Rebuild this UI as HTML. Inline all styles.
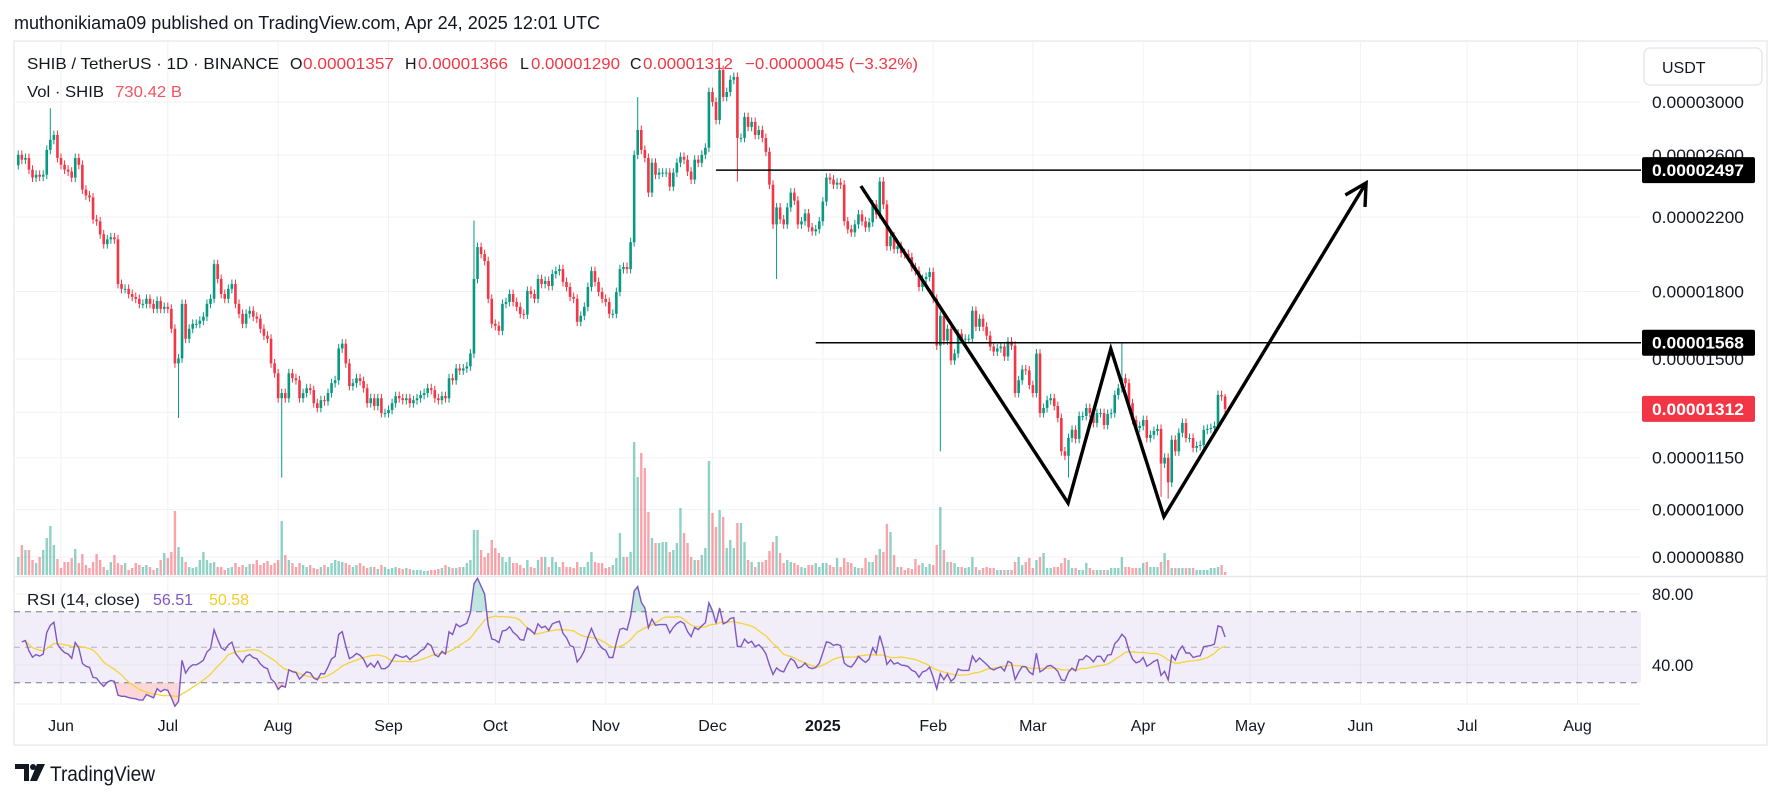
<!DOCTYPE html>
<html><head><meta charset="utf-8"><title>SHIB/USDT chart</title>
<style>
html,body{margin:0;padding:0;background:#fff;}
body{width:1781px;height:799px;overflow:hidden;font-family:"Liberation Sans",sans-serif;}
svg text{font-family:"Liberation Sans",sans-serif;}
</style></head>
<body>
<svg id="chart" width="1781" height="799" viewBox="0 0 1781 799" xmlns="http://www.w3.org/2000/svg">
  <rect x="0" y="0" width="1781" height="799" fill="#ffffff"/>
  <text x="14" y="29" font-size="18" fill="#131722" textLength="586" lengthAdjust="spacingAndGlyphs">muthonikiama09 published on TradingView.com, Apr 24, 2025 12:01 UTC</text>
  <rect x="14" y="41" width="1753" height="704" fill="none" stroke="#eef0f4" stroke-width="2"/>
  <g id="grid"></g>
  <g id="rsiBand"></g>
  <g id="volumes"></g>
  <g id="candles"></g>
  <g id="rsi"></g>
  <g id="drawings"></g>
  <g id="axis"></g>
  <g font-size="16">
    <text x="27" y="69" fill="#131722" textLength="252" lengthAdjust="spacingAndGlyphs">SHIB / TetherUS · 1D · BINANCE</text>
    <text x="290" y="69" fill="#131722">O</text><text x="303" y="69" fill="#F23645" textLength="91" lengthAdjust="spacingAndGlyphs">0.00001357</text>
    <text x="405" y="69" fill="#131722">H</text><text x="418" y="69" fill="#F23645" textLength="90" lengthAdjust="spacingAndGlyphs">0.00001366</text>
    <text x="520" y="69" fill="#131722">L</text><text x="531" y="69" fill="#F23645" textLength="89" lengthAdjust="spacingAndGlyphs">0.00001290</text>
    <text x="630" y="69" fill="#131722">C</text><text x="643" y="69" fill="#F23645" textLength="90" lengthAdjust="spacingAndGlyphs">0.00001312</text>
    <text x="745" y="69" fill="#F23645" textLength="173" lengthAdjust="spacingAndGlyphs">−0.00000045 (−3.32%)</text>
    <text x="27" y="97" fill="#131722" textLength="77" lengthAdjust="spacingAndGlyphs">Vol · SHIB</text>
    <text x="115" y="97" fill="#F7525F" textLength="67" lengthAdjust="spacingAndGlyphs">730.42 B</text>
    <text x="27" y="605" fill="#131722" textLength="113" lengthAdjust="spacingAndGlyphs">RSI (14, close)</text>
    <text x="153" y="605" fill="#7E57C2">56.51</text>
    <text x="209" y="605" fill="#F5CD2A">50.58</text>
  </g>
  <g>
    <rect x="1644" y="48" width="118" height="37" rx="6" fill="#fff" stroke="#e6e8ee" stroke-width="1.5"/>
    <text x="1662" y="73" font-size="16" fill="#131722">USDT</text>
  </g>
  <g>
    <path d="M15 764 h14 v17 h-5 v-12 h-9 z" fill="#131722"/>
    <circle cx="33" cy="767" r="3" fill="#131722"/>
    <path d="M37 764 h8 l-8 17 h-7 z" fill="#131722"/>
    <text x="50" y="781" font-size="21" fill="#131722" textLength="105" lengthAdjust="spacingAndGlyphs">TradingView</text>
  </g>
</svg>
<script>
// ---- data (prices in 1e-8 USDT units, first candle = May 20 2024, daily) ----
const startDay = -12; // days relative to Jun 1 2024
const firstOpen = 2530;
const closes = [
2602,2568,2580,2500,2447,2466,2453,2466,2637,2709,
2745,2580,2533,2500,2487,2447,2580,2533,2369,2332,
2320,2186,2175,2100,2045,2072,2083,2072,1837,1813,
1813,1788,1774,1765,1741,1741,1765,1741,1718,1755,
1718,1727,1718,1628,1483,1503,1741,1585,1628,1650,
1650,1664,1682,1741,1765,1938,1862,1788,1765,1813,
1837,1741,1695,1650,1695,1709,1682,1673,1628,1598,
1585,1483,1444,1350,1369,1350,1444,1425,1417,1350,
1369,1387,1380,1332,1315,1343,1339,1369,1406,1417,
1544,1564,1483,1395,1406,1425,1414,1387,1332,1350,
1322,1350,1297,1297,1308,1332,1358,1350,1343,1350,
1332,1343,1350,
1362,1369,1387,1380,1350,1343,1358,1350,1425,1417,
1463,1455,1463,1471,1523,1862,2029,1991,1954,1765,
1650,1641,1619,1741,1750,1788,1750,1727,1695,1691,
1803,1788,1765,1862,1837,1852,1827,1887,1902,1912,
1847,1822,1774,1765,1659,1686,1727,1822,1902,1847,
1798,1765,1750,1695,1695,1798,1912,1923,1912,2056,
2602,2782,2637,2580,2350,2547,2466,2480,2480,2480,
2388,2480,2547,2588,2568,2487,2434,2568,2547,2602,
2652,3082,3000,2858,3270,3041,3082,3185,3210,2723,
2723,2881,2805,2843,2745,2782,2723,2623,2401,2157,
2258,2186,2157,2258,2350,2300,2157,2175,2222,2140,
2117,2129,2175,2294,2447,
2434,2401,2414,2401,2175,2129,2111,2157,2216,2175,
2140,2169,2276,2216,2421,2276,2034,2089,2018,2034,
1997,1991,1975,1922,1902,1822,1862,1872,1897,1765,
1556,1686,1577,1628,1495,1523,1607,1585,1585,1585,
1709,1637,1673,1637,1598,1552,1531,1544,1552,1511,
1573,1556,1369,1417,1459,1455,1399,1369,1523,1297,
1315,1343,1350,1322,1280,1170,1156,1213,1240,1210,
1287,1287,1315,1297,1263,1297,1297,1256,1294,1297,
1362,1387,1425,1406,1332,1273,1246,1253,1273,1213,
1223,1236,1243,1132,1150,1076,1207,1170,1230,1263,
1213,1213,1181,1187,1190,1240,1243,1246,1253,1362,
1357,1312
];
// notable wicks: [day, price]
const wickHighDays = [-3, 116, 162, 185, 298, 327];
const wickHighVals = [2950, 2180, 3040, 3330, 1570, 1366];
const wickLowDays = [33, 62, 190, 201, 247, 283, 309, 311, 327];
const wickLowVals = [1280, 1090, 2420, 1862, 1170, 1090, 1035, 1030, 1290];
// volume (approx, units of ~73B SHIB)
const volumes = [
18,30,25,25,15,12,18,25,37,49,
30,16,7,13,13,17,26,12,21,10,
7,13,21,15,8,5,13,20,12,10,
12,5,7,12,10,8,10,8,5,7,
15,22,17,23,64,28,18,13,8,7,
8,15,23,15,12,13,8,8,5,7,
8,12,8,10,8,11,11,15,
10,12,14,10,12,15,54,
20,15,12,8,12,10,8,10,7,6,8,10,8,12,15,14,13,12,10,8,10,12,9,7,8,8,6,10,8,6,7,8,7,6,7,6,5,5,
5,4,4,5,5,6,7,10,8,7,7,8,8,12,
15,45,45,25,18,22,35,27,22,18,
13,18,12,12,10,7,15,8,7,15,
18,18,8,18,13,8,13,8,8,7,
13,8,8,13,23,13,12,12,7,8,
10,17,42,18,18,23,133,98,122,107,
63,37,32,32,33,33,23,25,32,67,
42,32,18,15,15,20,27,114,62,48,
65,58,27,35,27,52,52,33,15,13,
8,13,13,15,24,33,39,22,12,15,
13,12,10,8,7,10,10,12,8,12,
12,10,
8,17,8,17,13,12,8,7,7,17,
13,13,20,26,23,51,43,20,8,8,
5,7,6,16,10,12,8,11,10,30,
68,25,13,13,12,8,8,7,8,18,
8,5,7,8,7,7,5,5,5,5,
5,13,18,10,13,17,7,15,18,22,
7,7,8,8,12,17,15,7,7,5,
5,12,7,5,5,5,5,5,7,7,
7,18,8,8,7,7,7,12,13,8,
8,8,13,22,15,7,7,7,7,7,
7,7,5,5,5,5,7,7,8,10,3
];
// RSI warm-up state carried in from before the visible range (avg gain / avg loss)
const rsiSeedGain = 30;
const rsiSeedLoss = 24;
const priceTicks = [3000, 2600, 2200, 1800, 1500, 1300, 1150, 1000, 880];
const priceTickLabels = ["0.00003000","0.00002600","0.00002200","0.00001800","0.00001500","0.00001300","0.00001150","0.00001000","0.00000880"];
const monthLabels = ["Jun","Jul","Aug","Sep","Oct","Nov","Dec","2025","Feb","Mar","Apr","May","Jun","Jul","Aug"];
const monthDays = [0,30,61,92,122,153,183,214,245,273,304,334,365,395,426];
const rsiTicks = [80, 40];
const rsiTickLabels = ["80.00", "40.00"];
const hLevelPrices = [2497, 1568];
const hLevelStartDays = [184, 212];
const hLevelLabels = ["0.00002497", "0.00001568"];
const lastPrice = 1312;
const lastPriceLabel = "0.00001312";
// pattern drawing anchor points [day, price]
const patternDays = [224.7, 282.9, 294.9, 309.8, 366.6];
const patternPrices = [2392, 1018, 1542, 981, 2412];

// ---- scales ----
const X0 = 61, PX_PER_DAY = 3.56;
function xOf(d){ return X0 + PX_PER_DAY * d; }
function yOf(p){ return 102 + 371 * Math.log(3000 / p); }
function yRsi(v){ return 594 + (80 - v) * 1.775; }
const PLOT_L = 14, PLOT_R = 1641, MAIN_T = 42, MAIN_B = 576, RSI_T = 577, RSI_B = 704;
const NS = "http://www.w3.org/2000/svg";
function mk(tag, attrs, parent){ const e = document.createElementNS(NS, tag); for (const k in attrs) e.setAttribute(k, attrs[k]); parent.appendChild(e); return e; }

// ---- grid ----
const grid = document.getElementById('grid');
monthDays.forEach((d) => {
  const l = mk('line', {x1: xOf(d), x2: xOf(d), y1: MAIN_T, y2: RSI_B, stroke: '#f1f2f5', 'stroke-width': 1}, grid);
  
  
});
priceTicks.forEach((p) => {
  const l = mk('line', {x1: PLOT_L, x2: PLOT_R, y1: yOf(p), y2: yOf(p), stroke: '#f1f2f5', 'stroke-width': 1}, grid);
  
  
});
rsiTicks.forEach((v) => {
  const l = mk('line', {x1: PLOT_L, x2: PLOT_R, y1: yRsi(v), y2: yRsi(v), stroke: '#f1f2f5', 'stroke-width': 1}, grid);
  
  
});
const sep = mk('line', {x1: 14, x2: 1767, y1: MAIN_B + 0.5, y2: MAIN_B + 0.5, stroke: '#e6e8ee', 'stroke-width': 1.5}, grid);


const sep2 = mk('line', {x1: 14, x2: PLOT_R, y1: RSI_B, y2: RSI_B, stroke: '#f1f2f5', 'stroke-width': 1}, grid);



// ---- RSI band ----
const band = document.getElementById('rsiBand');
const bandRect = mk('rect', {x: PLOT_L, y: yRsi(70), width: PLOT_R - PLOT_L, height: yRsi(30) - yRsi(70), fill: 'rgba(126,87,194,0.1)'}, band);


[70, 50, 30].forEach((v) => {
  const l = mk('line', {x1: PLOT_L, x2: PLOT_R, y1: yRsi(v), y2: yRsi(v), stroke: v === 50 ? '#b2b5be' : '#787b86', 'stroke-width': 1, 'stroke-dasharray': '6,5'}, band);
  
  
});

// ---- candles & volume ----
const cg = document.getElementById('candles');
const vg = document.getElementById('volumes');
for (let i = 0; i < closes.length; i++) {
  const d = startDay + i;
  const o = i === 0 ? firstOpen : closes[i - 1];
  const c = closes[i];
  let hi = Math.max(o, c) * 1.012, lo = Math.min(o, c) / 1.012;
  const hIdx = wickHighDays.indexOf(d); if (hIdx >= 0) hi = wickHighVals[hIdx];
  const lIdx = wickLowDays.indexOf(d); if (lIdx >= 0) lo = wickLowVals[lIdx];
  const up = c >= o;
  const col = up ? '#089981' : '#F23645';
  const x = xOf(d);
  const wick = mk('line', {x1: x, x2: x, y1: Math.max(yOf(hi), MAIN_T), y2: yOf(lo), stroke: col, 'stroke-width': 1}, cg);
  
  
  const yt = Math.max(yOf(Math.max(o, c)), MAIN_T), yb = yOf(Math.min(o, c));
  const body = mk('rect', {x: x - 1.3, y: yt, width: 2.6, height: Math.max(1, yb - yt), fill: col}, cg);
  
  
  const v = volumes[i] || 0;
  const vb = mk('rect', {x: x - 1.2, y: 575 - v, width: 2.4, height: v, fill: up ? 'rgba(8,153,129,0.45)' : 'rgba(242,54,69,0.45)'}, vg);
  
  
}

// ---- RSI (14) from closes (Wilder, seeded) + SMA(14) ----
const rsiVals = [];
let avgG = rsiSeedGain, avgL = rsiSeedLoss;
for (let i = 1; i < closes.length; i++) {
  const ch = closes[i] - closes[i - 1];
  const g = Math.max(ch, 0), l = Math.max(-ch, 0);
  avgG = (avgG * 13 + g) / 14; avgL = (avgL * 13 + l) / 14;
  rsiVals.push(avgL === 0 ? 100 : 100 - 100 / (1 + avgG / avgL));
}
const rsiMa = rsiVals.map((_, i) => { const s = rsiVals.slice(Math.max(0, i - 13), i + 1); return s.reduce((a, b) => a + b, 0) / s.length; });
const rg = document.getElementById('rsi');
const rsiPts = rsiVals.map((v, i) => xOf(startDay + 1 + i).toFixed(1) + ',' + yRsi(v).toFixed(1));
const maPts = rsiMa.map((v, i) => xOf(startDay + 1 + i).toFixed(1) + ',' + yRsi(v).toFixed(1));
const defs = mk('defs', {}, rg);
const cpTop = mk('clipPath', {id: 'obClip'}, defs);
mk('rect', {x: 0, y: RSI_T, width: 1781, height: yRsi(70) - RSI_T}, cpTop);
const cpBot = mk('clipPath', {id: 'osClip'}, defs);
mk('rect', {x: 0, y: yRsi(30), width: 1781, height: RSI_B - yRsi(30)}, cpBot);
const x1 = xOf(startDay + 1), x2 = xOf(startDay + rsiVals.length);
const ob = mk('polygon', {points: rsiPts.join(' ') + ' ' + x2 + ',' + yRsi(70) + ' ' + x1 + ',' + yRsi(70), fill: 'rgba(8,153,129,0.25)', 'clip-path': 'url(#obClip)'}, rg);


const os = mk('polygon', {points: rsiPts.join(' ') + ' ' + x2 + ',' + yRsi(30) + ' ' + x1 + ',' + yRsi(30), fill: 'rgba(242,54,69,0.2)', 'clip-path': 'url(#osClip)'}, rg);


const maLine = mk('polyline', {points: maPts.join(' '), fill: 'none', stroke: '#F5D33A', 'stroke-width': 1.3}, rg);


const rsiLine = mk('polyline', {points: rsiPts.join(' '), fill: 'none', stroke: '#7E57C2', 'stroke-width': 1.4}, rg);



// ---- drawings ----
const dg = document.getElementById('drawings');
hLevelPrices.forEach((p, i) => {
  const l = mk('line', {x1: xOf(hLevelStartDays[i]), x2: PLOT_R, y1: yOf(p), y2: yOf(p), stroke: '#000', 'stroke-width': 1.5}, dg);
  
  
});
const patPts = patternDays.map((d, i) => xOf(d).toFixed(1) + ',' + yOf(patternPrices[i]).toFixed(1)).join(' ');
const pat = mk('polyline', {points: patPts, fill: 'none', stroke: '#000', 'stroke-width': 3.4, 'stroke-linejoin': 'miter'}, dg);


const n = patternDays.length;
const tx = xOf(patternDays[n - 1]), ty = yOf(patternPrices[n - 1]);
const px = xOf(patternDays[n - 2]), py = yOf(patternPrices[n - 2]);
const ang = Math.atan2(ty - py, tx - px);
const hl = 24, spread = 0.5;
const ah = mk('polyline', {points: (tx - hl * Math.cos(ang - spread)) + ',' + (ty - hl * Math.sin(ang - spread)) + ' ' + tx + ',' + ty + ' ' + (tx - hl * Math.cos(ang + spread)) + ',' + (ty - hl * Math.sin(ang + spread)), fill: 'none', stroke: '#000', 'stroke-width': 3.4}, dg);



// ---- axes ----
const ag = document.getElementById('axis');
priceTicks.forEach((p, i) => {
  const t = mk('text', {x: 1652, y: yOf(p) + 6, 'font-size': 16.5, fill: '#131722', textLength: 92, lengthAdjust: 'spacingAndGlyphs'}, ag);
  t.textContent = priceTickLabels[i];
  
  
});
rsiTicks.forEach((v, i) => {
  const t = mk('text', {x: 1652, y: yRsi(v) + 6, 'font-size': 16.5, fill: '#131722'}, ag);
  t.textContent = rsiTickLabels[i];
  
  
});
hLevelPrices.forEach((p, i) => {
  const r = mk('rect', {x: 1642, y: yOf(p) - 13, width: 113, height: 26, rx: 2, fill: '#000'}, ag);
  
  
  const t = mk('text', {x: 1652, y: yOf(p) + 6, 'font-size': 16.5, 'font-weight': 'bold', fill: '#fff', textLength: 92, lengthAdjust: 'spacingAndGlyphs'}, ag);
  t.textContent = hLevelLabels[i];
  
  
});
const lr = mk('rect', {x: 1642, y: yOf(lastPrice) - 13, width: 113, height: 26, rx: 2, fill: '#F23645'}, ag);


const lt = mk('text', {x: 1652, y: yOf(lastPrice) + 6, 'font-size': 16.5, 'font-weight': 'bold', fill: '#fff', textLength: 92, lengthAdjust: 'spacingAndGlyphs'}, ag);
lt.textContent = lastPriceLabel;


monthLabels.forEach((m, i) => {
  const t = mk('text', {x: xOf(monthDays[i]), y: 731, 'font-size': 16, fill: '#131722', 'text-anchor': 'middle', 'font-weight': m === '2025' ? 'bold' : 'normal'}, ag);
  t.textContent = m;
  
  
});
</script>
</body></html>
